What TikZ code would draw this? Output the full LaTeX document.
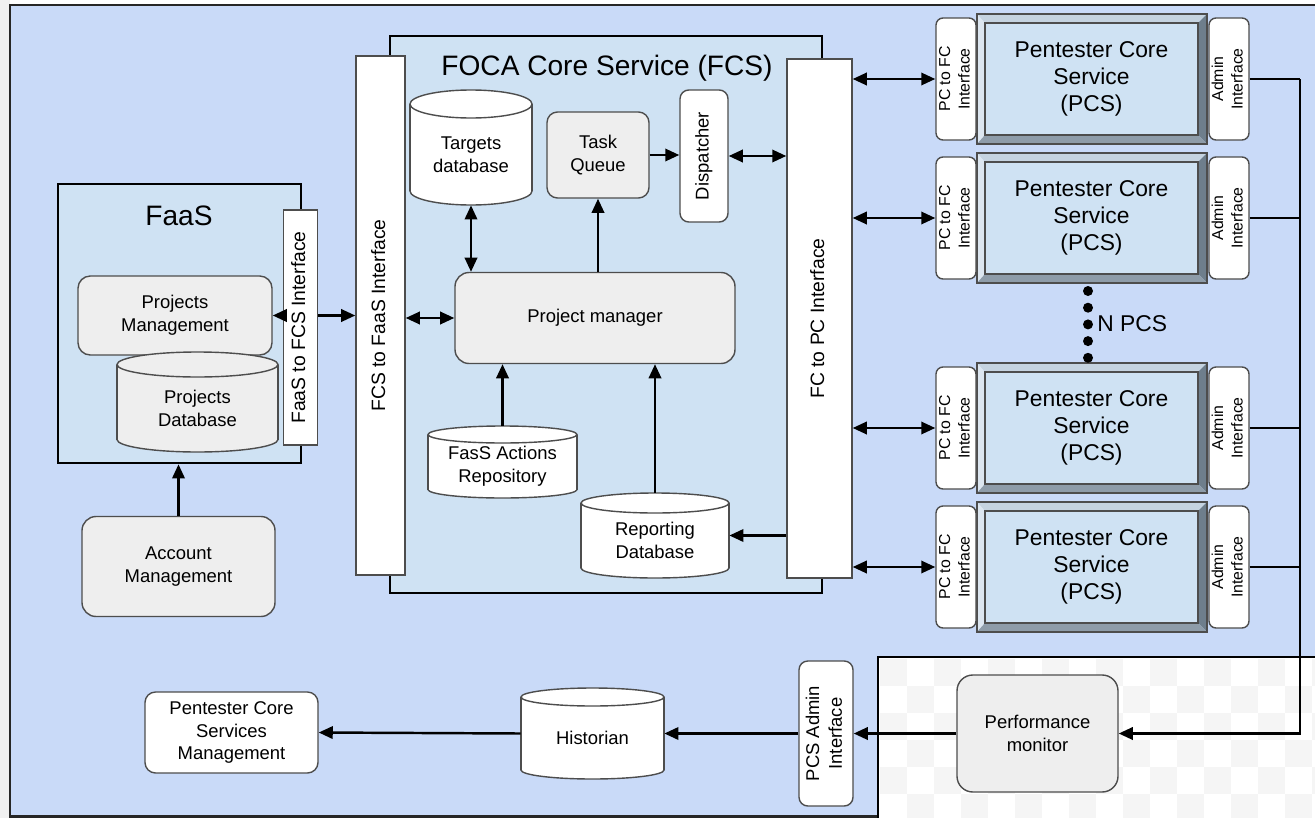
\documentclass[tikz,border=0pt]{standalone}
\usepackage{fontspec}
\setmainfont{Liberation Sans}
\usetikzlibrary{arrows.meta}

\definecolor{bgblue}{HTML}{C9DAF8}
\definecolor{inblue}{HTML}{CFE2F3}
\definecolor{boxgray}{HTML}{EEEEEE}
\definecolor{edgegray}{HTML}{4D4D4D}
\definecolor{stripgray}{HTML}{F0F0F0}
\definecolor{chkgray}{HTML}{F5F5F5}
\definecolor{bevtop}{HTML}{C5D3E0}
\definecolor{bevleft}{HTML}{DCE6F0}
\definecolor{bevright}{HTML}{6E7E8C}
\definecolor{bevbot}{HTML}{8E9CA9}

\tikzset{
  sz/.style 2 args={minimum width=#1*0.02cm, minimum height=#2*0.02cm},
  box/.style={draw=edgegray, line width=0.8pt, inner sep=0pt, align=center,
    font=\fontsize{10.5}{13}\selectfont},
  rbox/.style={box, rounded corners=6pt, fill=boxgray},
  wbox/.style={box, rounded corners=5pt, fill=white},
  ifbox/.style={box, rounded corners=4pt, fill=white, font=\fontsize{9}{11}\selectfont},
  bigif/.style={box, fill=white, font=\fontsize{11}{13}\selectfont},
  container/.style={draw=black, line width=1.5pt, fill=inblue},
  title/.style={font=\fontsize{16}{18}\selectfont},
  conn/.style={line width=1.4pt},
  arr/.style={conn, -{Triangle[length=8pt,width=7pt]}},
  dblarr/.style={conn, {Triangle[length=8pt,width=7pt]}-{Triangle[length=8pt,width=7pt]}},
}

% text turned on its side, for the interface strips
\newcommand{\vtext}[1]{\rotatebox{90}{\begin{tabular}{@{}c@{}}#1\end{tabular}}}
% database drum: name, left, top, right, bottom, y radius, fill, text
\newcommand{\dbcyl}[8]{%
  \draw[draw=edgegray, line width=0.8pt, fill=#7] ({(#2+#4)/2},{#5-#6}) ellipse [x radius={(#4-#2)/2}, y radius=#6];
  \fill[#7] (#2,{#3+#6}) rectangle (#4,{#5-#6});
  \draw[edgegray, line width=0.8pt] (#2,{#3+#6}) -- (#2,{#5-#6}) (#4,{#3+#6}) -- (#4,{#5-#6});
  \draw[draw=edgegray, line width=0.8pt, fill=#7] ({(#2+#4)/2},{#3+#6}) ellipse [x radius={(#4-#2)/2}, y radius=#6];
  \node[inner sep=0pt, minimum width={(#4-#2)*0.02cm}, minimum height={(#5-#3)*0.02cm}] (#1) at ({(#2+#4)/2},{(#3+#5)/2}) {};
  \node[align=center, font=\fontsize{10.5}{13}\selectfont] (#1txt) at ({(#2+#4)/2},{(#3+#5)/2+#6/2}) {#8};
}

\begin{document}
\begin{tikzpicture}[x=0.02cm, y=-0.02cm]
  \useasboundingbox (0,0) rectangle (1315,818);

  % backdrop
  \fill[stripgray] (0,0) rectangle (10,818);
  \fill[bgblue] (10,5) rectangle (1315,816);
  \fill[white] (878,657) rectangle (1315,818);
  \begin{scope}
    \clip (878,657) rectangle (1315,818);
    \foreach \cy in {0,2,4}
      \foreach \cx in {0,2,...,16} {
        \fill[chkgray] (880+\cx*27,659+\cy*27) rectangle ++(27,27);
        \fill[chkgray] (907+\cx*27,686+\cy*27) rectangle ++(27,27);
      }
  \end{scope}
  \draw[line width=1.7pt, black!85] (1315,5) -- (10,5) -- (10,816) -- (878,816);
  \draw[line width=1.4pt] (878,818) -- (878,657) -- (1315,657);

  % FaaS side
  \node[container, sz={243}{279}] (faas) at (179.5,323.5) {};
  \node[title] (faastitle) at (179,216) {FaaS};
  \node[rbox, sz={194}{79}, rounded corners=7pt] (projmgmt) at (175,315.5) {Projects\\Management};
  \dbcyl{projdb}{117}{352}{278}{452}{12.5}{boxgray}{Projects\\Database}
  \node[bigif, sz={34}{235}] (faasif) at (300.5,327.5) {\vtext{FaaS to FCS Interface}};
  \node[rbox, sz={193}{100}, rounded corners=8pt] (account) at (178.5,566.5) {Account\\Management};

  % FOCA core service
  \node[container, sz={432}{557}] (fcs) at (606,314.5) {};
  \node[title] (fcstitle) at (607,68) {FOCA Core Service (FCS)};
  \node[bigif, sz={49}{519}] (fcsif) at (380.5,315.5) {\vtext{FCS to FaaS Interface}};
  \dbcyl{targets}{410}{90}{532}{205}{14}{white}{Targets\\database}
  \node[rbox, sz={102}{86}] (taskq) at (598,155) {Task\\Queue};
  \node[wbox, sz={48}{132}] (dispatcher) at (704,156) {\vtext{Dispatcher}};
  \node[rbox, sz={280}{91}, rounded corners=8pt] (pm) at (595,318) {Project manager};
  \dbcyl{fasrepo}{428}{426}{577}{498}{8.5}{white}{FasS Actions\\Repository}
  \dbcyl{reporting}{581}{493}{729}{578}{10}{white}{Reporting\\Database}
  \node[bigif, sz={65}{519}] (fcpcif) at (819.5,318.5) {\vtext{FC to PC Interface}};

  % pentester core services
  \coordinate (bus) at (1300,79);
  \foreach \i/\y in {1/79,2/218,3/428,4/567} {
    \fill[bevtop] (977,\y-65) -- (1207,\y-65) -- (1198,\y-56) -- (985,\y-56) -- cycle;
    \fill[bevleft] (977,\y-65) -- (985,\y-56) -- (985,\y+56) -- (977,\y+65) -- cycle;
    \fill[bevright] (1207,\y-65) -- (1207,\y+65) -- (1198,\y+56) -- (1198,\y-56) -- cycle;
    \fill[bevbot] (977,\y+65) -- (1207,\y+65) -- (1198,\y+56) -- (985,\y+56) -- cycle;
    \draw[edgegray, line width=0.8pt] (977,\y-65) rectangle (1207,\y+65);
    \node[box, sz={213}{112}, fill=inblue, font=\fontsize{13}{15.5}\selectfont] (pcs\i) at (1091.5,\y) {Pentester Core\\Service\\(PCS)};
    \node[ifbox, sz={40}{122}] (pcif\i) at (956,\y) {\vtext{PC to FC\\Interface}};
    \node[ifbox, sz={40}{122}] (adif\i) at (1229,\y) {\vtext{Admin\\Interface}};
    \draw[dblarr] (fcpcif.east |- pcif\i.west) -- (pcif\i.west);
    \draw[conn] (adif\i.east) -- (adif\i.east -| bus);
  }
  \foreach \d in {0,...,4}
    \fill (1088,291+\d*16.7) circle (5);
  \node[anchor=west, font=\fontsize{13}{15}\selectfont, inner sep=0pt] (npcs) at (1097,324) {N PCS};

  % monitoring chain
  \node[rbox, sz={161}{117}, rounded corners=9pt] (perfmon) at (1037.5,733.5) {Performance\\monitor};
  \node[wbox, sz={54}{145}, font=\fontsize{10.5}{13}\selectfont] (pcsadmin) at (826,733.5) {\vtext{PCS Admin\\Interface}};
  \dbcyl{historian}{521}{688}{664}{779}{9}{white}{Historian}
  \node[wbox, sz={173}{81}, rounded corners=6pt] (pcsm) at (231.5,732.5) {Pentester Core\\Services\\Management};

  % connectors
  \draw[arr] (account.north) -- (faas.south -| account.north);
  \draw[arr] (faasif.east |- projmgmt.east) -- (fcsif.west |- projmgmt.east);
  \draw[arr] (faasif.west |- projmgmt.east) -- (projmgmt.east);
  \draw[dblarr] (fcsif.east |- pm.west) -- (pm.west);
  \draw[dblarr] (targets.south) -- (targets.south |- pm.north);
  \draw[arr] (taskq.south |- pm.north) -- (taskq.south);
  \draw[arr] (taskq.east) -- (taskq.east -| dispatcher.west);
  \draw[dblarr] (dispatcher.east) -- (dispatcher.east -| fcpcif.west);
  \draw[arr] (fasrepo.north) -- (fasrepo.north |- pm.south);
  \draw[arr] (reporting.north) -- (reporting.north |- pm.south);
  \draw[arr] (fcpcif.west |- reporting.east) -- (reporting.east);
  \draw[arr] (bus) |- (perfmon.east);
  \draw[arr] (perfmon.west) -- (pcsadmin.east);
  \draw[arr] (pcsadmin.west) -- (historian.east);
  \draw[arr] (historian.west) -- (pcsm.east);
\end{tikzpicture}
\end{document}
